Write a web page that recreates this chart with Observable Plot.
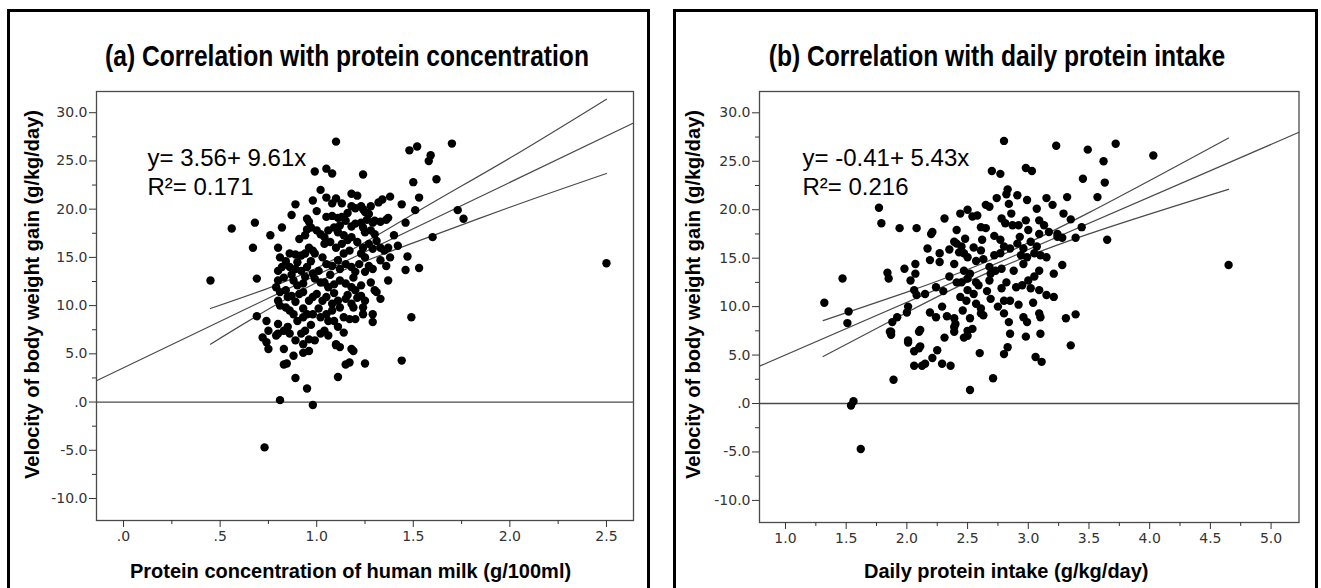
<!DOCTYPE html>
<html><head><meta charset="utf-8">
<script src="https://cdn.jsdelivr.net/npm/d3@7"></script>
<script src="https://cdn.jsdelivr.net/npm/@observablehq/plot@0.6"></script>
<style>
body{margin:0;background:#fff}
#root{position:relative;width:1321px;height:588px;overflow:hidden;background:#fff}
.box{position:absolute;border:3px solid #000;box-sizing:border-box}
.title{position:absolute;width:600px;text-align:center;font-family:"Liberation Sans",Arial,sans-serif;font-weight:bold;font-size:30px;line-height:30px;transform:scaleX(0.82);transform-origin:50% 50%;color:#000;white-space:nowrap}
.plot{position:absolute}
</style></head><body>
<div id="root">
<div class="box" style="left:7px;top:9px;width:643px;height:600px"></div>
<div class="box" style="left:673px;top:9px;width:645px;height:600px"></div>
<div class="title" id="ta" style="left:47px;top:41px"></div>
<div class="title" id="tb" style="left:697px;top:41px"></div>
<div class="plot" id="pa" style="left:0;top:85px"></div>
<div class="plot" id="pb" style="left:660px;top:85px"></div>
</div>
<script>
// ---------- Data ----------
const titles = ["(a) Correlation with protein concentration", "(b) Correlation with daily protein intake"];
const yLabel = "Velocity of body weight gain (g/kg/day)";
const xLabels = ["Protein concentration of human milk (g/100ml)", "Daily protein intake (g/kg/day)"];
const equations = ["y= 3.56+ 9.61x\nR\u00b2= 0.171", "y= -0.41+ 5.43x\nR\u00b2= 0.216"];
const fitA = [3.56, 9.61];
const fitB = [-0.41, 5.43];

const yTicks = [-10, -5, 0, 5, 10, 15, 20, 25, 30];
const yMinor = [-7.5, -2.5, 2.5, 7.5, 12.5, 17.5, 22.5, 27.5];
const xTicksA = [0, 0.5, 1.0, 1.5, 2.0, 2.5];
const xMinorA = [0.25, 0.75, 1.25, 1.75, 2.25];
const xTicksB = [1.0, 1.5, 2.0, 2.5, 3.0, 3.5, 4.0, 4.5, 5.0];
const xMinorB = [1.25, 1.75, 2.25, 2.75, 3.25, 3.75, 4.25, 4.75];

// 95% confidence band of the mean
const ciXA = [0.45, 1.0, 1.5, 2.0, 2.5];
const ciUpperA = [9.7, 13.9, 19.5, 25.3, 31.4];
const ciLowerA = [6.0, 12.4, 16.5, 20.2, 23.7];
const ciXB = [1.31, 2.0, 2.65, 3.5, 4.65];
const ciUpperB = [8.55, 11.5, 14.6, 19.7, 27.4];
const ciLowerB = [4.85, 9.4, 13.4, 17.5, 22.1];

// Panel (a): protein concentration (g/100ml) vs velocity
const concA = [1.10,1.48,1.52,1.70,1.59,1.58,0.99,1.05,1.08,1.24,1.50,1.62,1.02,1.53,1.05,1.08,1.10,1.18,1.21,0.89,1.34,1.32,1.38,1.44,1.51,1.18,1.20,1.23,1.24,1.25,0.87,1.00,0.95,0.96,0.95,0.97,1.05,1.08,1.11,1.13,1.15,1.12,1.18,1.20,1.23,1.26,1.29,1.30,1.33,1.36,1.37,1.46,0.56,0.68,0.82,0.76,1.00,1.02,1.04,1.09,1.11,1.14,1.24,1.25,1.28,1.30,0.67,0.80,0.86,0.89,0.92,0.94,0.96,0.98,0.99,1.04,1.07,1.10,1.13,1.16,1.18,1.21,1.24,1.27,1.29,1.31,1.33,1.35,1.37,1.40,1.42,1.47,1.46,1.53,0.81,0.82,0.86,0.89,0.80,0.80,0.83,0.92,0.95,0.98,0.99,1.02,1.05,1.08,1.11,1.12,1.15,1.18,1.20,1.23,1.25,1.27,1.29,1.33,1.36,1.38,0.45,0.69,0.88,0.90,0.93,1.04,1.06,1.09,1.12,1.15,1.18,1.20,1.23,1.25,1.28,1.30,1.31,1.37,0.79,0.81,0.84,0.91,0.93,0.96,0.98,1.00,1.03,1.05,1.08,1.11,1.12,1.15,1.18,1.19,1.23,1.25,1.29,1.33,0.80,0.81,0.84,0.85,0.86,0.69,0.74,0.75,0.80,0.80,0.83,0.88,0.90,0.93,0.95,0.98,1.02,1.05,1.06,1.09,1.11,1.14,1.17,1.20,1.24,1.24,1.29,1.49,0.72,0.74,0.75,0.85,0.86,0.89,0.92,0.94,0.96,0.99,1.02,1.04,1.06,1.10,1.12,1.18,1.73,1.76,1.60,2.50,0.79,0.83,0.845,0.83,0.88,0.89,0.93,0.93,0.96,0.95,0.81,0.98,0.73,1.10,1.11,1.15,1.17,1.19,1.25,1.44,
  0.84,0.87,0.90,0.94,0.97,1.01,1.03,1.07,1.14,1.17,1.19,1.22,0.91,0.94,1.06,1.16,1.13,1.28,0.98,1.27,0.87,0.89,1.01,1.09,1.16,1.21,0.93,0.97,1.08,1.14];
const velA = [27.0,26.1,26.5,26.8,25.6,25.0,23.9,24.2,23.7,23.6,22.8,23.1,22.0,21.2,21.2,20.6,21.1,21.6,21.4,20.5,21.0,20.7,21.3,20.5,19.9,20.3,20.1,20.3,20.0,19.7,19.4,19.8,19.0,18.7,17.9,18.1,19.2,19.3,19.1,19.2,18.8,18.3,18.2,18.5,18.6,18.9,18.6,18.8,18.7,18.9,19.1,18.6,18.0,18.6,18.1,17.3,17.8,17.4,17.1,18.1,17.6,17.3,18.1,17.6,17.8,17.4,16.0,16.0,15.4,15.3,15.2,15.4,16.0,15.7,15.4,16.4,16.6,16.0,16.4,16.8,17.1,16.6,16.0,16.4,15.9,16.7,16.0,15.7,16.0,17.3,16.2,15.1,13.7,13.9,15.0,14.0,14.0,13.8,13.6,12.6,12.9,13.6,14.0,13.3,12.8,12.4,14.3,14.1,14.7,13.8,14.3,14.0,13.5,15.4,15.0,14.1,13.8,14.7,14.1,15.0,12.6,12.8,12.6,12.1,12.3,12.4,11.9,12.2,12.6,12.3,11.9,11.6,12.1,13.5,12.4,11.6,11.4,12.6,11.9,11.4,11.6,11.2,11.4,10.5,10.9,11.2,10.5,10.9,10.2,10.5,9.8,10.7,10.2,9.8,11.0,10.5,8.3,10.7,10.5,10.0,9.8,10.9,9.5,8.9,8.4,7.4,8.1,7.1,7.4,9.1,8.4,8.8,9.1,9.1,8.8,9.1,8.4,8.4,7.8,8.8,8.6,8.6,9.8,9.1,9.1,8.8,6.7,6.2,5.5,7.8,7.1,6.4,7.1,7.4,6.5,6.4,7.1,7.4,6.9,6.0,5.7,5.5,19.9,19.0,17.1,14.4,6.9,5.5,4.0,3.9,4.8,2.5,6.0,5.1,5.3,1.4,0.2,-0.3,-4.7,5.9,2.6,3.9,4.1,5.3,4.0,4.3,
  14.6,13.2,14.5,13.0,14.6,13.6,15.0,13.2,15.4,15.7,12.9,14.3,16.9,17.3,17.8,19.6,20.6,20.3,20.9,19.5,11.0,10.4,9.7,11.3,11.1,10.8,9.7,8.0,9.5,7.2];

// Panel (b): daily protein intake (g/kg/day) vs velocity
const intakeB = [1.77,1.79,1.32,1.47,1.52,1.51,1.84,1.85,1.94,2.08,1.98,2.07,2.07,2.03,2.06,2.08,2.15,2.01,2.00,1.92,1.88,1.86,2.17,2.20,2.21,2.19,2.27,2.27,2.31,2.24,2.19,2.29,2.11,2.01,2.31,2.39,2.39,2.40,2.41,2.39,2.41,2.45,2.39,2.44,2.50,2.54,2.58,2.43,2.47,2.50,2.41,2.45,2.50,2.47,2.52,2.57,2.59,2.61,2.62,2.65,2.68,2.61,2.65,2.49,2.57,2.61,2.52,2.54,2.50,2.61,2.63,2.68,2.68,2.80,3.23,3.49,3.72,4.03,3.62,2.70,2.77,2.98,3.03,3.45,3.63,3.57,2.83,2.82,2.91,2.84,2.74,2.99,3.07,3.15,3.20,3.29,3.32,2.81,2.87,2.92,2.98,3.00,3.09,3.13,3.17,3.09,3.35,3.24,3.28,3.44,3.39,3.65,4.65,2.72,2.77,2.77,2.80,2.85,2.91,2.96,3.02,3.07,3.10,3.15,3.24,3.28,2.94,2.99,3.05,2.69,2.73,2.78,2.82,2.88,2.95,3.00,2.96,3.09,3.21,3.15,3.09,3.02,3.21,2.78,2.85,2.80,2.69,2.80,2.84,2.96,2.99,3.09,3.10,2.85,2.98,3.10,3.31,3.39,3.35,2.50,2.55,2.24,1.87,1.87,2.01,2.06,2.10,2.11,2.06,2.125,2.15,2.21,2.25,2.29,2.36,2.39,2.47,2.50,2.52,2.60,2.71,2.80,2.83,3.06,3.11,1.89,1.54,1.56,1.62,2.10,
  2.35,2.48,2.55,2.57,2.63,2.72,2.78,2.86,2.93,2.90,3.05,2.35,2.30,2.44,2.66,2.75,2.92,3.04,2.33,2.46];
const velB = [20.2,18.6,10.4,12.9,9.5,8.3,13.5,12.9,18.1,18.1,13.9,14.4,13.4,12.7,11.7,11.2,11.3,10.0,9.4,8.9,8.4,7.4,16.0,17.5,17.7,14.8,15.5,14.6,19.1,12.0,9.4,10.0,7.6,6.5,6.8,8.8,7.9,8.2,17.9,16.7,16.5,16.2,14.4,19.6,20.0,19.3,19.4,15.6,15.5,15.1,12.5,12.5,12.9,13.7,13.4,12.5,12.2,15.8,16.9,20.5,20.3,18.2,18.1,10.6,10.3,9.8,8.8,7.7,7.0,9.3,9.1,14.1,12.7,27.1,26.6,26.2,26.8,25.6,25.0,24.0,23.7,24.3,24.0,23.2,22.8,21.3,22.1,21.6,21.5,20.6,21.2,21.0,20.1,21.2,20.5,19.6,21.3,18.6,18.4,18.4,18.9,17.9,18.9,18.4,17.7,17.5,19.0,17.5,17.1,18.2,17.1,16.9,14.3,15.3,15.5,16.9,16.2,16.0,16.5,16.0,16.7,16.2,15.3,15.1,17.2,14.3,15.3,15.1,15.5,13.4,13.7,13.9,12.5,13.7,12.2,12.7,14.4,13.7,13.4,11.2,11.7,11.9,11.0,11.9,10.6,10.6,10.8,9.3,8.4,8.9,8.4,9.3,8.9,7.2,6.9,7.2,8.8,9.2,6.0,11.7,11.3,8.9,7.4,7.1,6.3,5.4,5.7,5.9,3.9,3.9,4.1,4.7,5.5,4.1,3.9,7.4,6.8,7.5,1.4,5.2,2.6,5.1,5.8,4.8,4.3,2.45,-0.2,0.24,-4.7,7.4,
  15.9,17.0,16.1,14.7,14.9,17.3,19.1,19.6,17.2,12.0,13.1,13.1,11.6,11.0,11.6,10.0,10.2,10.4,9.0,9.6];

// ---------- Drawing ----------
const yDomain = [-12.28, 32.2];
const fmt = d => d3.format(".1f")(d).replace(/\u2212/g, "-").replace(/^0\./, ".").replace(/^-0\./, "-.");
const GRAY = "#4a4a4a";
const LABEL_FONT = "Liberation Sans, Arial, sans-serif";

function panel(o) {
  const pts = o.xs.map((x, i) => ({x, y: o.ys[i]}));
  const fitLine = o.xDomain.map(x => ({x, y: o.fit[0] + o.fit[1] * x}));
  const up = o.ciX.map((x, i) => ({x, y: o.ciU[i]}));
  const lo = o.ciX.map((x, i) => ({x, y: o.ciL[i]}));
  return Plot.plot({
    width: o.width, height: 503,
    marginLeft: o.ml, marginRight: o.mr, marginTop: 6, marginBottom: o.mb,
    x: {domain: o.xDomain},
    y: {domain: yDomain},
    style: {fontFamily: "DejaVu Sans, sans-serif", fontSize: "14px", color: "#222", background: "transparent", overflow: "visible"},
    marks: [
      Plot.ruleY([0], {stroke: GRAY, strokeWidth: 1.3}),
      Plot.line(up, {x: "x", y: "y", curve: "natural", stroke: GRAY, strokeWidth: 1.2}),
      Plot.line(lo, {x: "x", y: "y", curve: "natural", stroke: GRAY, strokeWidth: 1.2}),
      Plot.line(fitLine, {x: "x", y: "y", stroke: GRAY, strokeWidth: 1.2}),
      Plot.dot(pts, {x: "x", y: "y", r: 4.2, fill: "#000", stroke: "none"}),
      Plot.frame({stroke: GRAY, strokeWidth: 1.3}),
      Plot.axisY(yTicks, {tickSize: 7, tickPadding: 2, tickFormat: fmt, label: null, color: "#333"}),
      Plot.axisY(yMinor, {tickSize: 4, tickFormat: () => "", label: null, color: "#333"}),
      Plot.axisX(o.xTicks, {tickSize: 7, tickPadding: 4, tickFormat: fmt, label: null, color: "#333"}),
      Plot.axisX(o.xMinor, {tickSize: 4, tickFormat: () => "", label: null, color: "#333"}),
      Plot.text([yLabel], {frameAnchor: "left", rotate: -90, textAnchor: "middle", dx: o.ylDx, dy: o.ylDy, fontFamily: LABEL_FONT, fontWeight: "bold", fontSize: 20, fill: "#000", lineAnchor: "middle"}),
      Plot.text([o.xLabel], {frameAnchor: "bottom", textAnchor: "middle", dx: o.xlDx, dy: o.xlDy, fontFamily: LABEL_FONT, fontWeight: "bold", fontSize: 20, fill: "#000", lineAnchor: "middle"}),
      Plot.text([o.eq], {frameAnchor: "top-left", textAnchor: "start", lineAnchor: "top", lineHeight: 1.21, dx: o.eqDx, dy: 54, fontFamily: LABEL_FONT, fontSize: 24, fill: "#000"})
    ]
  });
}

document.getElementById("ta").textContent = titles[0];
document.getElementById("tb").textContent = titles[1];

document.getElementById("pa").appendChild(panel({
  xs: concA, ys: velA, fit: fitA, ciX: ciXA, ciU: ciUpperA, ciL: ciLowerA,
  xDomain: [-0.14, 2.64], xTicks: xTicksA, xMinor: xMinorA, xLabel: xLabels[0], eq: equations[0],
  width: 660, ml: 96, mr: 27, mb: 68,
  ylDx: -64, ylDy: -11.5, xlDx: -14.5, xlDy: 51, eqDx: 51
}));
document.getElementById("pb").appendChild(panel({
  xs: intakeB, ys: velB, fit: fitB, ciX: ciXB, ciU: ciUpperB, ciL: ciLowerB,
  xDomain: [0.786, 5.23], xTicks: xTicksB, xMinor: xMinorB, xLabel: xLabels[1], eq: equations[1],
  width: 661, ml: 99, mr: 22.5, mb: 66,
  ylDx: -66, ylDy: -12.5, xlDx: -23, xlDy: 49, eqDx: 43
}));
</script>
</body></html>
